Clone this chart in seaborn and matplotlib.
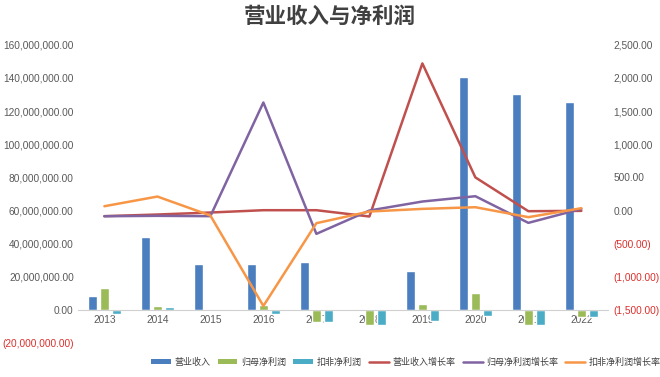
import numpy as np
import pandas as pd
import matplotlib
matplotlib.use("Agg")
import matplotlib.pyplot as plt
import seaborn as sns
from matplotlib.patches import Patch
from matplotlib.lines import Line2D
from matplotlib.ticker import FuncFormatter, MultipleLocator

# data
years = ["2013", "2014", "2015", "2016", "2017", "2018", "2019", "2020", "2021", "2022"]
revenue = [8.6e6, 44.3e6, 27.8e6, 27.8e6, 28.8e6, 0.8e6, 23.6e6, 140.4e6, 130.5e6, 125.3e6]
net_profit = [13.3e6, 2.4e6, 0.3e6, 3.0e6, -7.0e6, -9.0e6, 3.6e6, 10.3e6, -9.0e6, -4.0e6]
net_profit_ex = [-2.4e6, 1.8e6, 0.5e6, -2.4e6, -7.0e6, -9.0e6, -6.5e6, -3.6e6, -9.0e6, -4.0e6]
revenue_growth = [-85, -60, -30, 5, 5, -90, 2220, 500, -10, -5]
profit_growth = [-86, -80, -85, 1630, -352, 0, 136, 216, -186, 25]
profit_ex_growth = [65, 211, -75, -1440, -191, -15, 25, 50, -100, 35]

bar_names = ["营业收入", "归母净利润", "扣非净利润"]
line_names = ["营业收入增长率", "归母净利润增长率", "扣非净利润增长率"]
bar_colors = ["#4a7ebf", "#9bbb59", "#4bacc6"]
line_colors = ["#c0504d", "#8064a2", "#f79646"]

sns.set_style("white")
plt.rcParams["font.family"] = ["Liberation Sans", "Noto Sans CJK SC", "DejaVu Sans"]

bars = pd.DataFrame({"year": years, bar_names[0]: revenue,
                     bar_names[1]: net_profit, bar_names[2]: net_profit_ex})
bars = bars.melt(id_vars="year", var_name="item", value_name="value")

lines = pd.DataFrame({"pos": np.arange(len(years)), line_names[0]: revenue_growth,
                      line_names[1]: profit_growth, line_names[2]: profit_ex_growth})
lines = lines.melt(id_vars="pos", var_name="item", value_name="value")

fig = plt.figure(figsize=(6.6, 3.77), dpi=100)
ax = fig.add_axes([0.118, 0.09, 0.803, 0.791])

sns.barplot(data=bars, x="year", y="value", hue="item", palette=bar_colors,
            width=0.68, gap=0.22, ax=ax, legend=False, saturation=1)

ax2 = ax.twinx()
sns.lineplot(data=lines, x="pos", y="value", hue="item", palette=line_colors,
             linewidth=1.8, ax=ax2, legend=False)

ax.set_xlim(-0.5, len(years) - 0.5)
ax.set_ylim(-20e6, 160e6)
ax.yaxis.set_major_locator(MultipleLocator(20e6))
ax2.set_ylim(-2000, 2500)
ax2.yaxis.set_major_locator(MultipleLocator(500))


def money(v, pos):
    s = f"{abs(v):,.2f}"
    return f"({s})" if v < 0 else s


ax.yaxis.set_major_formatter(FuncFormatter(money))
ax2.yaxis.set_major_formatter(FuncFormatter(money))

for a in (ax, ax2):
    for side in ("top", "left", "right"):
        a.spines[side].set_visible(False)
    a.set_xlabel("")
    a.set_ylabel("")
    a.tick_params(length=0, labelsize=7.3, colors="#595959")
ax2.spines["bottom"].set_visible(False)
ax.spines["bottom"].set_position(("data", 0))
ax.spines["bottom"].set_color("#d0d0d0")
ax.tick_params(axis="x", pad=4)
ax.tick_params(axis="y", pad=3)
ax2.tick_params(axis="y", pad=4)

fig.canvas.draw()
for lab in ax.get_yticklabels() + ax2.get_yticklabels():
    if lab.get_text().startswith("("):
        lab.set_color("#d9302c")
# the right axis label at -2000 is not shown in the reference
for lab in ax2.get_yticklabels():
    if lab.get_text() == "(2,000.00)":
        lab.set_visible(False)

fig.suptitle("营业收入与净利润", x=0.5, y=0.985, fontsize=15.5, fontweight="bold",
             color="#404040", family=["Noto Sans CJK SC", "DejaVu Sans"])

handles = [Patch(facecolor=c, edgecolor="none") for c in bar_colors]
handles += [Line2D([0], [0], color=c, linewidth=1.8) for c in line_colors]
fig.legend(handles, bar_names + line_names, loc="center", ncol=6,
           bbox_to_anchor=(0.615, 0.04), frameon=False, fontsize=6.5,
           handlelength=2.2, handleheight=0.6, handletextpad=0.4, columnspacing=0.8,
           labelcolor="#404040")

fig.savefig("out.png", dpi=100)
